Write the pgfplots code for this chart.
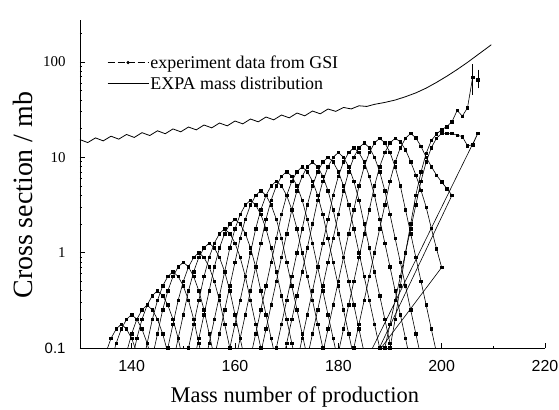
\documentclass[border=0pt]{standalone}
\usepackage{pgfplots}
\pgfplotsset{compat=1.18}
\usepackage{fontspec}
\setmainfont{Liberation Serif}
\newfontfamily\sans{Liberation Sans}
\begin{document}
\begin{tikzpicture}
\begin{axis}[
  at={(0,0)}, anchor=south west,
  scale only axis, width=465bp, height=328bp,
  xmin=130, xmax=220, ymin=0.1, ymax=275, ymode=log,
  axis x line*=bottom, axis y line*=left,
  axis line style={line width=0.7pt},
  tick align=inside, tick style={line width=0.6pt, black},
  major tick length=5bp, minor tick length=2.5bp,
  xtick={140,160,180,200,220}, xticklabels={140,160,180,200,220},
  minor xtick={150,170,190,210},
  ytick={0.1,1,10,100}, yticklabels={{\sans 0.1},1,10,100},
  minor ytick={0.2,0.3,0.4,0.5,0.6,0.7,0.8,0.9,2,3,4,5,6,7,8,9,20,30,40,50,60,70,80,90,200},
  xticklabel style={font=\sans\fontsize{16}{16}\selectfont, yshift=-9bp},
  yticklabel style={font=\fontsize{15}{15}\selectfont, xshift=-11bp},
  xlabel={Mass number of production}, ylabel={Cross section / mb},
  xlabel style={font=\fontsize{22.5}{22.5}\selectfont, at={(axis description cs:0.462,-0.149)}, anchor=center},
  ylabel style={font=\fontsize{28}{28}\selectfont, at={(axis description cs:-0.1226,0.466)}, anchor=center},
  legend style={at={(0.058,0.897)}, anchor=north west, draw=none, fill=none,
    font=\fontsize{18}{19}\selectfont, inner sep=0pt, row sep=4bp,
    nodes={inner sep=1.5bp}},
  legend cell align=left,
  legend image code/.code={\draw[#1, mark repeat=2, mark phase=2] plot coordinates {(0bp,0bp) (20.5bp,0bp) (41bp,0bp)};},
  every axis plot/.append style={black, line width=0.6pt},
  chain/.style={mark=square*, mark size=1.3pt, forget plot},
]
\addlegendimage{black, line width=0.6pt, dash pattern=on 7bp off 3bp, mark=*, mark size=1.3pt}
\addlegendentry{experiment data from GSI}
\addlegendimage{black, line width=0.8pt}
\addlegendentry{EXPA mass distribution}

% EXPA mass distribution
\addplot[line width=0.8pt, forget plot] coordinates {
(130,15.31)(131.5,14.26)(133,15.96)(134.5,14.86)(136,16.63)(137.5,15.49)(139,17.34)(140.5,16.14)
(142,18.11)(143.5,16.90)(145,18.95)(146.5,17.66)(148,19.82)(149.5,18.49)(151,20.75)(152.5,19.39)
(154,21.78)(155.5,20.35)(157,22.86)(158.5,21.36)(160,23.99)(161.5,22.41)(163,25.18)(164.5,23.53)
(166,26.42)(167.5,24.69)(169,27.73)(170.5,25.91)(172,29.11)(173.5,27.20)(175,30.55)(176.5,28.55)
(178,32.06)(179.5,30.31)(181,33.30)(182.5,32.12)(184,34.67)(185.5,34.12)(187,35.89)(189,37.58)
(191,39.81)(193,43.15)(195,47.32)(197,53.09)(199,60.95)(201,70.79)(203,83.18)(205,98.86)
(207,118.9)(209,142.9)(209.6,151.4)};

% isotopic chains (GSI data)
\addplot[chain] coordinates {(135,0.0891)(136,0.126)(137,0.158)(138,0.178)(139,0.158)(140,0.126)(141,0.0891)};
\addplot[chain] coordinates {(136,0.0708)(137,0.112)(138,0.158)(139,0.2)(140,0.224)(141,0.2)(142,0.158)(143,0.112)(144,0.0708)};
\addplot[chain] coordinates {(139,0.0891)(140,0.141)(141,0.2)(142,0.251)(143,0.282)(144,0.251)(145,0.2)(146,0.141)(147,0.0891)};
\addplot[chain] coordinates {(140,0.0708)(141,0.126)(142,0.2)(143,0.282)(144,0.355)(145,0.398)(146,0.355)(147,0.282)(148,0.2)(149,0.126)(150,0.0708)};
\addplot[chain] coordinates {(142,0.0631)(143,0.112)(144,0.2)(145,0.316)(146,0.447)(147,0.562)(148,0.631)(149,0.562)(150,0.447)(151,0.316)(152,0.2)(153,0.112)(154,0.0631)};
\addplot[chain] coordinates {(144,0.0794)(145,0.141)(146,0.251)(147,0.398)(148,0.562)(149,0.708)(150,0.794)(151,0.708)(152,0.562)(153,0.398)(154,0.251)(155,0.141)(156,0.0794)};
\addplot[chain] coordinates {(146,0.0562)(147,0.1)(148,0.178)(149,0.316)(150,0.501)(151,0.708)(152,0.891)(153,1.0)(154,0.891)(155,0.708)(156,0.501)(157,0.316)(158,0.178)(159,0.1)(160,0.0562)};
\addplot[chain] coordinates {(148,0.0708)(149,0.126)(150,0.224)(151,0.398)(152,0.631)(153,0.891)(154,1.122)(155,1.259)(156,1.122)(157,0.891)(158,0.631)(159,0.398)(160,0.224)(161,0.126)(162,0.0708)};
\addplot[chain] coordinates {(150,0.0562)(151,0.1)(152,0.178)(153,0.316)(154,0.562)(155,0.891)(156,1.259)(157,1.585)(158,1.778)(159,1.585)(160,1.259)(161,0.891)(162,0.562)(163,0.316)(164,0.178)(165,0.1)(166,0.0562)};
\addplot[chain] coordinates {(152,0.0708)(153,0.126)(154,0.224)(155,0.398)(156,0.708)(157,1.122)(158,1.585)(159,1.995)(160,2.239)(161,1.995)(162,1.585)(163,1.122)(164,0.708)(165,0.398)(166,0.224)(167,0.126)(168,0.0708)};
\addplot[chain] coordinates {(154,0.0631)(155,0.112)(156,0.2)(157,0.355)(158,0.631)(159,1.122)(160,1.778)(161,2.512)(162,3.162)(163,3.548)(164,3.162)(165,2.512)(166,1.778)(167,1.122)(168,0.631)(169,0.355)(170,0.2)(171,0.112)(172,0.0631)};
\addplot[chain] coordinates {(156,0.0794)(157,0.141)(158,0.251)(159,0.447)(160,0.794)(161,1.413)(162,2.239)(163,3.162)(164,3.981)(165,4.467)(166,3.981)(167,3.162)(168,2.239)(169,1.413)(170,0.794)(171,0.447)(172,0.251)(173,0.141)(174,0.0794)};
\addplot[chain] coordinates {(158,0.0562)(159,0.1)(160,0.178)(161,0.316)(162,0.562)(163,1.0)(164,1.778)(165,2.818)(166,3.981)(167,5.012)(168,5.623)(169,5.012)(170,3.981)(171,2.818)(172,1.778)(173,1.0)(174,0.562)(175,0.316)(176,0.178)(177,0.1)(178,0.0562)};
\addplot[chain] coordinates {(160,0.0708)(161,0.126)(162,0.224)(163,0.398)(164,0.708)(165,1.259)(166,2.239)(167,3.548)(168,5.012)(169,6.31)(170,7.079)(171,6.31)(172,5.012)(173,3.548)(174,2.239)(175,1.259)(176,0.708)(177,0.398)(178,0.224)(179,0.126)(180,0.0708)};
\addplot[chain] coordinates {(163,0.0794)(164,0.141)(165,0.251)(166,0.447)(167,0.794)(168,1.413)(169,2.512)(170,3.981)(171,5.623)(172,7.079)(173,7.943)(174,7.079)(175,5.623)(176,3.981)(177,2.512)(178,1.413)(179,0.794)(180,0.447)(181,0.251)(182,0.141)(183,0.0794)};
\addplot[chain] coordinates {(165,0.0891)(166,0.158)(167,0.282)(168,0.501)(169,0.891)(170,1.585)(171,2.818)(172,4.467)(173,6.31)(174,7.943)(175,8.913)(176,7.943)(177,6.31)(178,4.467)(179,2.818)(180,1.585)(181,0.891)(182,0.501)(183,0.282)(184,0.158)(185,0.0891)};
\addplot[chain] coordinates {(167,0.0562)(168,0.1)(169,0.178)(170,0.316)(171,0.562)(172,1.0)(173,1.778)(174,3.162)(175,5.012)(176,7.079)(177,8.913)(178,10.0)(179,8.913)(180,7.079)(181,5.012)(182,3.162)(183,1.778)(184,1.0)(185,0.562)(186,0.316)(187,0.178)(188,0.1)(189,0.0562)};
\addplot[chain] coordinates {(169,0.0631)(170,0.112)(171,0.2)(172,0.355)(173,0.631)(174,1.122)(175,1.995)(176,3.548)(177,5.623)(178,7.943)(179,10.0)(180,11.22)(181,10.0)(182,7.943)(183,5.623)(184,3.548)(185,1.995)(186,1.122)(187,0.631)(188,0.355)(189,0.2)(190,0.112)(191,0.0631)};
\addplot[chain] coordinates {(172,0.0708)(173,0.126)(174,0.224)(175,0.398)(176,0.708)(177,1.259)(178,2.239)(179,3.981)(180,6.31)(181,8.913)(182,11.22)(183,12.59)(184,11.22)(185,8.913)(186,6.31)(187,3.981)(188,2.239)(189,1.259)(190,0.708)(191,0.398)(192,0.224)(193,0.126)(194,0.0708)};
\addplot[chain] coordinates {(174,0.0794)(175,0.141)(176,0.251)(177,0.447)(178,0.794)(179,1.413)(180,2.512)(181,4.467)(182,7.079)(183,10.0)(184,12.59)(185,14.13)(186,12.59)(187,10.0)(188,7.079)(189,4.467)(190,2.512)(191,1.413)(192,0.794)(193,0.447)(194,0.251)(195,0.141)(196,0.0794)};
\addplot[chain] coordinates {(177,0.0891)(178,0.158)(179,0.282)(180,0.501)(181,0.891)(182,1.585)(183,2.818)(184,5.012)(185,7.943)(186,11.22)(187,14.13)(188,15.85)(189,14.13)(190,11.22)(191,7.943)(192,5.012)(193,2.818)(194,1.585)(195,0.891)(196,0.501)(197,0.282)(198,0.158)(199,0.0891)};
\addplot[chain] coordinates {(180,0.0891)(181,0.158)(182,0.282)(183,0.501)(184,0.891)(185,1.585)(186,2.818)(187,5.012)(188,7.943)(189,11.22)(190,14.13)(191,15.85)(192,14.5)(193,12.0)(194,9.0)(195,6.5)(196,4.5)(197,3.0)(198,1.8)(199,1.1)(200,0.7)(184.8,0.0562)};
\addplot[chain] coordinates {(182,0.0562)(183,0.1)(184,0.178)(185,0.316)(186,0.562)(187,1.0)(188,1.778)(189,3.162)(190,5.623)(191,8.913)(192,12.59)(193,15.85)(194,17.78)(195,16.0)(196,13.0)(197,10.0)(198,8.0)(199,6.5)(200,5.5)(201,4.7)(202,4.0)(185.3,0.0501)};
\addplot[chain] coordinates {(188,0.0562)(189,0.1)(190,0.178)(191,0.316)(192,0.562)(193,1.0)(194,1.778)(195,3.162)(196,5.623)(197,8.913)(198,12.59)(199,15.85)(200,17.78)(201,17.8)(202,17.8)(203,17.0)(204,16.5)(205,13.2)(206,13.5)(207,17.8)(183.9,0.0501)};
\addplot[chain] coordinates {(189,0.0562)(190,0.1)(191,0.2)(192,0.45)(193,1.0)(194,2.0)(195,4.0)(196,7.0)(197,11.0)(198,15.0)(199,17.5)(200,19.5)(201,21)(202,23.6)(203,31)(204,27)(205,33)(206,69)};
\addplot[only marks, mark=square*, mark size=1.3pt, forget plot,
  error bars/.cd, y dir=both, y explicit, error mark=-,
  error mark options={mark size=2.5pt, line width=0.6pt},
  error bar style={line width=0.6pt}]
  coordinates {(206,69) += (0,20) -= (0,21) (207,65) += (0,13) -= (0,9)};
\end{axis}
\pgfresetboundingbox
\path[use as bounding box] (-80bp,-62bp) rectangle (479bp,348bp);
\end{tikzpicture}
\end{document}
